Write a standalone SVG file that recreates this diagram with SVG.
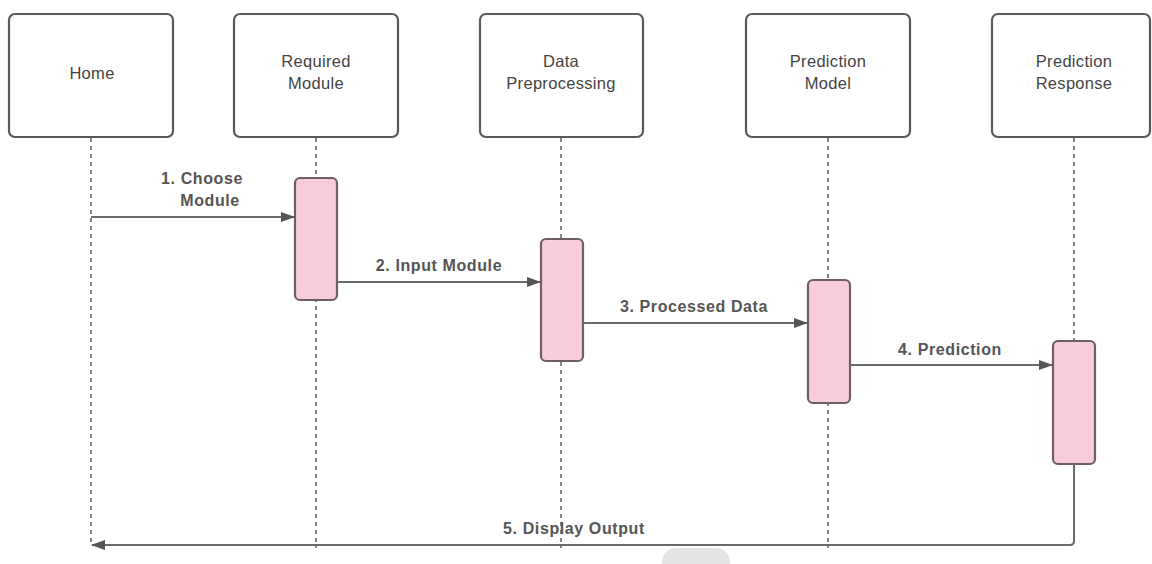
<svg xmlns="http://www.w3.org/2000/svg" width="1152" height="564" viewBox="0 0 1152 564">
<defs>
<style>
.box{fill:#fff;stroke:#5a5a5a;stroke-width:2.2}
.act{fill:#f8cdd9;stroke:#6e5e64;stroke-width:2.2}
.life{stroke:#666;stroke-width:1.6;stroke-dasharray:4 4;fill:none}
.msg{stroke:#6a6a6a;stroke-width:2;fill:none}
.lbl{font-family:"Liberation Sans",Arial,sans-serif;font-size:16.5px;letter-spacing:0.3px;fill:#444;text-anchor:middle}
.mlbl{font-family:"Liberation Sans",Arial,sans-serif;font-size:16px;letter-spacing:0.6px;font-weight:bold;fill:#555;text-anchor:middle}
</style>
<marker id="ah" markerWidth="14" markerHeight="10" refX="13" refY="5" orient="auto" markerUnits="userSpaceOnUse">
<path d="M0,0 L14,5 L0,10 z" fill="#555"/>
</marker>
</defs>
<rect width="1152" height="564" fill="#fff"/>
<g id="lifelines">
<line class="life" x1="91" y1="138" x2="91" y2="545"/>
<line class="life" x1="316" y1="138" x2="316" y2="548"/>
<line class="life" x1="561" y1="138" x2="561" y2="548"/>
<line class="life" x1="828" y1="138" x2="828" y2="548"/>
<line class="life" x1="1074" y1="138" x2="1074" y2="341"/>
</g>
<g id="home"><rect class="box" x="9" y="14" width="164" height="123" rx="6"/><text class="lbl" x="92" y="79">Home</text></g>
<g id="required"><rect class="box" x="234" y="14" width="164" height="123" rx="6"/><text class="lbl" x="316" y="67">Required</text><text class="lbl" x="316" y="89">Module</text></g>
<g id="preproc"><rect class="box" x="480" y="14" width="163" height="123" rx="6"/><text class="lbl" x="561" y="67">Data</text><text class="lbl" x="561" y="89">Preprocessing</text></g>
<g id="model"><rect class="box" x="746" y="14" width="164" height="123" rx="6"/><text class="lbl" x="828" y="67">Prediction</text><text class="lbl" x="828" y="89">Model</text></g>
<g id="response"><rect class="box" x="992" y="14" width="158" height="123" rx="6"/><text class="lbl" x="1074" y="67">Prediction</text><text class="lbl" x="1074" y="89">Response</text></g>
<g id="act1"><rect class="act" x="295" y="178" width="42" height="122" rx="5"/></g>
<g id="act2"><rect class="act" x="541" y="239" width="42" height="122" rx="5"/></g>
<g id="act3"><rect class="act" x="808" y="280" width="42" height="123" rx="5"/></g>
<g id="act4"><rect class="act" x="1053" y="341" width="42" height="123" rx="5"/></g>
<g id="connectors">
<line class="msg" x1="91" y1="217" x2="294" y2="217" marker-end="url(#ah)"/>
<line class="msg" x1="337" y1="282" x2="540" y2="282" marker-end="url(#ah)"/>
<line class="msg" x1="583" y1="323" x2="807" y2="323" marker-end="url(#ah)"/>
<line class="msg" x1="850" y1="365" x2="1052" y2="365" marker-end="url(#ah)"/>
<path class="msg" d="M1074,464 V541 Q1074,545 1070,545 H92" marker-end="url(#ah)"/>
<text class="mlbl" x="202" y="184">1. Choose</text>
<text class="mlbl" x="210" y="206">Module</text>
<text class="mlbl" x="439" y="271">2. Input Module</text>
<text class="mlbl" x="694" y="312">3. Processed Data</text>
<text class="mlbl" x="950" y="355">4. Prediction</text>
<text class="mlbl" x="574" y="534">5. Display Output</text>
</g>
<rect x="662" y="548" width="68" height="30" rx="14" fill="#e4e4e4"/>
</svg>
